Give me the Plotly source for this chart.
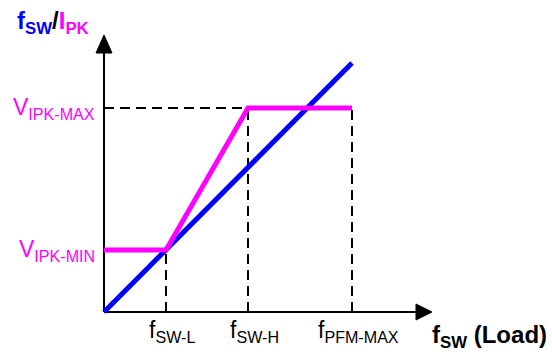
import plotly.graph_objects as go

# ---- data (abstract units) ----
x_ticks = [6.2, 14.4, 24.8]
x_tick_labels = ["f<sub>SW-L</sub>", "f<sub>SW-H</sub>", "f<sub>PFM-MAX</sub>"]
y_levels = [6.2, 20.4]
y_level_labels = ["V<sub>IPK-MIN</sub>", "V<sub>IPK-MAX</sub>"]
blue_x = [0, 24.8]
blue_y = [0, 24.9]
mag_x = [0, 6.2, 14.4, 24.8]
mag_y = [6.2, 6.2, 20.4, 20.4]

BLUE = "#0000FF"
MAG = "#FF00FF"
FONT = "Liberation Sans, Arial, sans-serif"

x_axis_end, x_tip = 31.3, 32.8
y_axis_end, y_tip = 26.0, 27.7
head_half = 0.8

fig = go.Figure()
fig.add_trace(go.Scatter(x=blue_x, y=blue_y, mode="lines",
                         line=dict(color=BLUE, width=5), hoverinfo="skip"))
fig.add_trace(go.Scatter(x=mag_x, y=mag_y, mode="lines",
                         line=dict(color=MAG, width=5), hoverinfo="skip"))

shapes = []
# axes
shapes.append(dict(type="line", x0=0, y0=0, x1=x_axis_end, y1=0,
                   line=dict(color="black", width=2), layer="below"))
shapes.append(dict(type="line", x0=0, y0=0, x1=0, y1=y_axis_end,
                   line=dict(color="black", width=2), layer="below"))
# arrowheads
shapes.append(dict(type="path",
                   path=f"M {x_axis_end-0.1} {-head_half} L {x_tip} 0 L {x_axis_end-0.1} {head_half} Z",
                   fillcolor="black", line=dict(color="black", width=1)))
shapes.append(dict(type="path",
                   path=f"M {-head_half} {y_axis_end-0.1} L 0 {y_tip} L {head_half} {y_axis_end-0.1} Z",
                   fillcolor="black", line=dict(color="black", width=1)))
# dashed guides
dash = dict(color="black", width=2, dash="10px,6px")
shapes.append(dict(type="line", x0=x_ticks[0], y0=0, x1=x_ticks[0], y1=y_levels[0], line=dash, layer="below"))
shapes.append(dict(type="line", x0=x_ticks[1], y0=0, x1=x_ticks[1], y1=y_levels[1], line=dash, layer="below"))
shapes.append(dict(type="line", x0=x_ticks[2], y0=0, x1=x_ticks[2], y1=y_levels[1], line=dash, layer="below"))
shapes.append(dict(type="line", x0=0, y0=y_levels[1], x1=x_ticks[1], y1=y_levels[1], line=dash, layer="below"))

annotations = []
for xv, lab in zip(x_ticks, x_tick_labels):
    annotations.append(dict(x=xv, y=0, xref="x", yref="y", text=lab, showarrow=False,
                            xanchor="center", yanchor="top", yshift=-3, xshift=6,
                            font=dict(family=FONT, size=23, color="black")))
for yv, lab in zip(y_levels, y_level_labels):
    annotations.append(dict(x=0, y=yv, xref="x", yref="y", text=lab, showarrow=False,
                            xanchor="right", yanchor="middle", xshift=-7, yshift=0,
                            font=dict(family=FONT, size=23, color=MAG)))
annotations.append(dict(x=53/552, y=1-22/352, xref="paper", yref="paper",
                        text=f'<b><span style="color:{BLUE}">f<sub>SW</sub></span>/<span style="color:{MAG}">I<sub>PK</sub></span></b>',
                        showarrow=False, xanchor="center", yanchor="middle",
                        font=dict(family=FONT, size=24, color="black")))
annotations.append(dict(x=490/552, y=1-336/352, xref="paper", yref="paper",
                        text="<b>f<sub>SW</sub> (Load)</b>",
                        showarrow=False, xanchor="center", yanchor="middle",
                        font=dict(family=FONT, size=24, color="black")))

fig.update_layout(
    width=552, height=352,
    margin=dict(l=0, r=0, t=0, b=0),
    paper_bgcolor="white", plot_bgcolor="white",
    showlegend=False,
    xaxis=dict(range=[-10.4, 44.8], visible=False, fixedrange=True),
    yaxis=dict(range=[-4.0, 31.2], visible=False, fixedrange=True),
    shapes=shapes, annotations=annotations,
)
fig.write_html("out.html", config={"displayModeBar": False},
               post_script="document.body.style.margin='0px';document.body.style.overflow='hidden';")
